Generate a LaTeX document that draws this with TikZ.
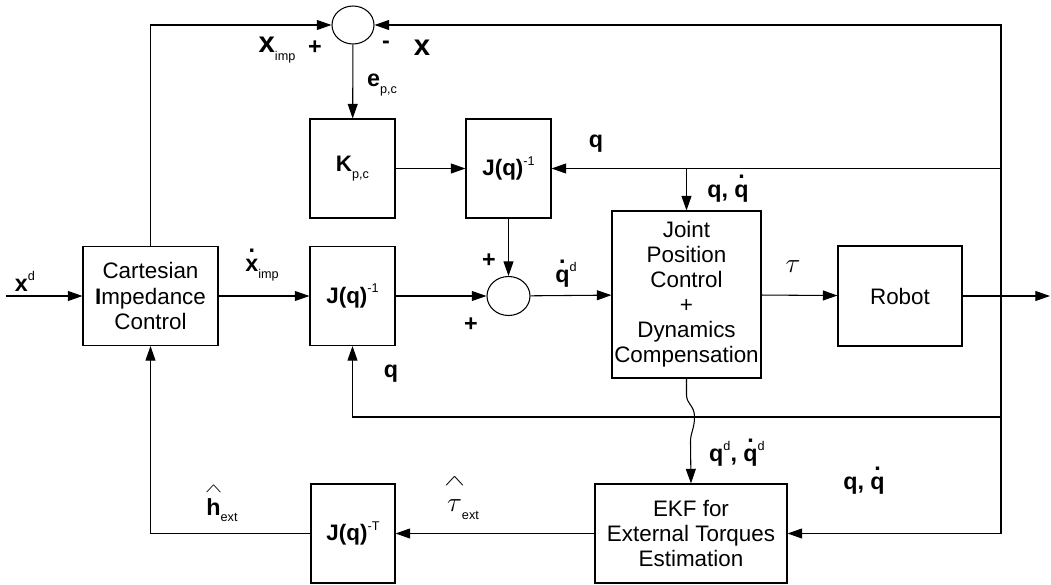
\documentclass[tikz,border=0pt]{standalone}
\usepackage{fontspec}
\usepackage{graphicx}
\setmainfont{Liberation Sans}
\usetikzlibrary{arrows.meta,shapes.geometric,calc}
\newcommand{\sbs}[1]{\raisebox{-0.55ex}{\mdseries\fontsize{9.5}{9.5}\selectfont #1}}
\newcommand{\sps}[1]{\raisebox{0.9ex}{\mdseries\fontsize{9.5}{9.5}\selectfont #1}}
\newcommand{\dotac}[1]{\ooalign{#1\cr\hidewidth\raisebox{0.82em}{.}\hidewidth\cr}}
\newcommand{\hatac}[1]{\ooalign{#1\cr\hidewidth\raisebox{0.95em}{\resizebox{0.75em}{0.3em}{$\wedge$}}\hidewidth\cr}}
\tikzset{
  blk/.style={draw, line width=0.8pt, align=center, font=\fontsize{16.8}{18.8}\selectfont, inner sep=0pt},
  sumn/.style={draw, ellipse, line width=0.8pt, inner sep=0pt},
  arr/.style={-{Triangle[length=11pt,width=7.5pt]}, line width=0.8pt},
  lbl/.style={font=\bfseries\fontsize{17.5}{18}\selectfont, inner sep=0pt},
  lblbig/.style={font=\bfseries\fontsize{22}{22}\selectfont, inner sep=0pt},
}

\begin{document}
\begin{tikzpicture}[x=0.75pt,y=-0.75pt]
\useasboundingbox (0,0) rectangle (1051,585);
\node[blk, minimum width=101.25pt, minimum height=74.25pt] (cic) at (150.5,296) {Cartesian\\\textbf{I}mpedance\\Control};
\node[blk, minimum width=63.75pt, minimum height=74.25pt] (jlo) at (352.5,296) {{\bfseries J(q)}\sps{-1}};
\node[blk, minimum width=63.75pt, minimum height=74.25pt] (kpc) at (352.5,168.5) {{\bfseries K}\sbs{p,c}};
\node[blk, minimum width=63.75pt, minimum height=74.25pt] (jup) at (508.5,168.5) {{\bfseries J(q)}\sps{-1}};
\node[sumn, minimum width=32.25pt, minimum height=29.25pt] (sumlo) at (508.5,296) {};
\node[sumn, minimum width=31.5pt, minimum height=28.5pt] (sumtop) at (353,25) {};
\node[blk, minimum width=111.75pt, minimum height=125.25pt] (jpc) at (686.5,294.5) {Joint\\Position\\Control\\+\\Dynamics\\Compensation};
\node[blk, minimum width=93pt, minimum height=75pt] (robot) at (900,296) {Robot};
\node[blk, minimum width=144pt, minimum height=74.25pt] (ekf) at (691,533.5) {EKF for\\External Torques\\Estimation};
\node[blk, minimum width=63pt, minimum height=74.25pt] (jt) at (353,533.5) {{\bfseries J(q)}\sps{-T}};

% branch points
\coordinate (in) at (6,296);
\coordinate (out) at (1050,296);
\coordinate (fbmid) at (1001,296);
\coordinate (fblo) at (1001,417);
\coordinate (hop) at (jpc.south |- fblo);

% forward path
\draw[arr] (in) -- (cic);
\draw[arr] (cic) -- (jlo);
\draw[arr] (jlo) -- (sumlo);
\draw[arr] (sumlo) -- (jpc);
\draw[arr] (jpc) -- (robot);
\draw[arr] (robot) -- (out);
\draw[arr] (cic.north) |- (sumtop);
\draw[arr] (sumtop) -- (kpc);
\draw[arr] (kpc) -- (jup);
\draw[arr] (jup) -- (sumlo);

% feedback
\draw[arr] (fbmid) |- (sumtop);
\draw[arr] (fbmid) |- (jup);
\draw[arr] (jpc.north |- jup.east) -- (jpc.north);
\draw[arr] (fbmid) |- (ekf);
\draw[arr] (fblo) -| (jlo);
\draw[arr] (jpc.south) -- ++(0,16) .. controls +(0,10) and +(0,-12) .. ($(hop)+(8,0)$) .. controls +(0,12) and +(0,-10) .. ($(hop)+(4,25)$) -- (ekf.north);
\draw[arr] (ekf) -- (jt);
\draw[arr] (jt) -| (cic);

% signal labels
\node[lbl] (lxd) at (25,281) {x\sps{d}};
\node[lbl] (lxi) at (262,270) {\dotac{x}\sbs{imp}};
\node[lblbig] (lxt) at (277,50) {x\sbs{imp}};
\node[lbl] (lpa) at (315,48) {+};
\node[lbl] (lmi) at (386,45) {-};
\node[lblbig] (lx) at (422,48) {x};
\node[lbl] (lep) at (382,85) {e\sbs{p,c}};
\node[lbl] (lq1) at (596,144) {q};
\node[lbl] (lqq1) at (728,194) {q, \dotac{q}};
\node[lbl] (lpb) at (489,261) {+};
\node[lbl] (lpc) at (471,325) {+};
\node[lbl] (lqd) at (566,272) {\dotac{q}\sps{d}};
\node[lbl] (lq2) at (391,374) {q};
\node[inner sep=0pt, font=\fontsize{21}{21}\selectfont] (ltau) at (793,267) {$\tau$};
\node[lbl] (lqd2) at (737,454) {q\sps{d}, \dotac{q}\sps{d}};
\node[lbl] (lqq2) at (864,486) {q, \dotac{q}};
\node[lbl] (lh) at (222,510) {\hatac{h}\sbs{ext}};
\node[lbl, font=\fontsize{21}{21}\selectfont] (lth) at (463,510) {\hatac{$\tau$}\sbs{ext}};
\end{tikzpicture}
\end{document}
